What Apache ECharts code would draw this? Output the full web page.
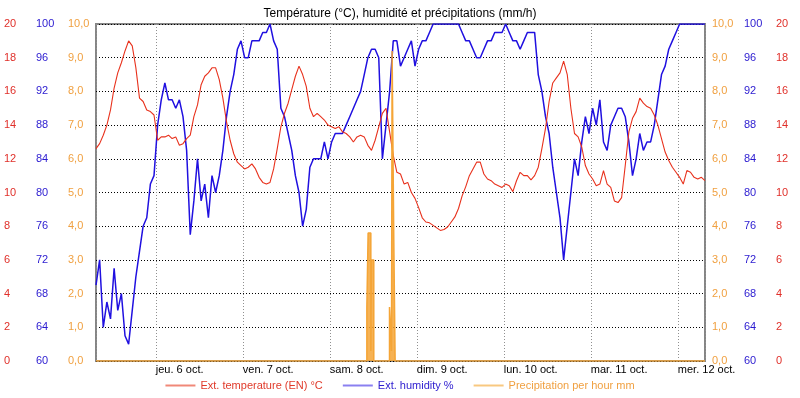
<!DOCTYPE html>
<html>
<head>
<meta charset="utf-8">
<script src="https://cdn.jsdelivr.net/npm/echarts@6/dist/echarts.min.js"></script>
<style>
    html, body { margin: 0; padding: 0; background: #fff; }
    #chart { width: 800px; height: 398px; }
</style>
</head>
<body>
<div id="chart"></div>
<script>
// relevés horaires, du 5 oct. 07:30 au 12 oct. 07:30
const startTime = new Date(2022, 9, 5, 7, 30).getTime();
const endTime = new Date(2022, 9, 12, 7, 30).getTime();

const temperature = [
    12.6, 12.9, 13.4, 14.0, 14.9, 16.2, 17.1, 17.7, 18.4, 19.0,
    18.7, 17.4, 15.6, 15.4, 14.9, 14.8, 14.6, 13.1, 13.3, 13.3,
    13.4, 13.2, 13.3, 12.8, 12.9, 13.2, 13.4, 14.5, 15.2, 16.4,
    16.9, 17.1, 17.4, 17.4, 16.7, 15.6, 14.2, 13.1, 12.3, 11.8,
    11.6, 11.4, 11.5, 11.7, 11.4, 10.9, 10.6, 10.5, 10.6, 11.4,
    12.6, 13.9, 14.7, 15.3, 16.1, 16.9, 17.5, 17.0, 16.3, 15.0,
    14.5, 14.7, 14.5, 14.3, 14.0, 13.9, 13.8, 13.9, 13.6, 13.5,
    13.3, 13.0, 13.3, 13.4, 13.3, 12.8, 12.5, 13.1, 13.9, 14.7,
    15.0, 13.6, 12.2, 11.2, 11.1, 10.5, 10.6, 10.0, 9.65, 9.1,
    8.5, 8.25, 8.2, 8.05, 7.9, 7.75, 7.8, 7.95, 8.25, 8.55,
    9.05, 9.8, 10.35, 11.0, 11.4, 11.8, 11.8, 11.1, 10.8, 10.7,
    10.5, 10.4, 10.3, 10.5, 10.4, 10.05, 10.7, 11.2, 11.0, 11.0,
    10.75, 11.0, 11.5, 12.6, 13.8, 15.4, 16.5, 16.8, 17.1, 17.8,
    17.0, 15.0, 13.5, 13.3, 12.7, 11.6, 11.1, 10.8, 10.4, 10.5,
    11.3, 10.5, 10.3, 9.5, 9.4, 9.7, 11.6, 13.6, 14.4, 14.8,
    15.6, 15.3, 15.1, 15.0, 14.6, 14.0, 13.2, 12.4, 11.9, 11.5,
    11.2, 10.9, 10.5, 11.3, 11.2, 10.9, 10.8, 10.9, 10.7
];

const humidity = [
    69, 72, 64, 67, 65, 71, 66, 68, 63, 62,
    66, 70, 73, 76, 77, 81, 82, 88, 91, 93,
    91, 91, 90, 91, 89, 85, 75, 79, 84, 79,
    81, 77, 82, 80, 82, 85, 89, 92, 94, 97,
    98, 96, 96, 98, 98, 98, 99, 99, 100, 98,
    97, 90, 89, 87, 85, 82, 80, 76, 78, 83,
    84, 84, 84, 86, 84, 86, 87, 87, 87, 88,
    89, 90, 91, 92, 94, 96, 97, 97, 96, 84,
    88, 92, 98, 98, 95, 96, 97, 98, 95, 97,
    98, 98, 99, 100, 100, 100, 100, 100, 100, 100,
    100, 99, 98, 98, 97, 96, 96, 97, 98, 98,
    99, 99, 99, 100, 99, 98, 98, 97, 98, 99,
    99, 99, 94, 92, 89, 87, 83, 80, 77, 72,
    76, 80, 84, 82, 86, 89, 87, 90, 88, 91,
    86, 85, 88, 89, 90, 90, 89, 86, 82, 84,
    87, 85, 86, 86, 88, 91, 94, 95, 97, 98,
    99, 100, 100, 100, 100, 100, 100, 100, 100
];

// chaque valeur vaut jusqu'au relevé suivant
const rainTimes = [
    '2022-10-05 07:30',
    '2022-10-08 10:13', '2022-10-08 10:34', '2022-10-08 11:19', '2022-10-08 11:30', '2022-10-08 12:08',
    '2022-10-08 16:28', '2022-10-08 17:01', '2022-10-08 17:11', '2022-10-08 17:39', '2022-10-08 18:01',
    '2022-10-12 07:30'
];
const rainValues = [
    0,
    1.6, 3.8, 0.3, 3.0, 0,
    1.6, 0.3, 9.2, 3.6, 0,
    0
];

const dayNames = ['dim.', 'lun.', 'mar.', 'mer.', 'jeu.', 'ven.', 'sam.'];
const monthNames = ['janv.', 'févr.', 'mars', 'avr.', 'mai', 'juin', 'juil.', 'août', 'sept.', 'oct.', 'nov.', 'déc.'];

const RED = '#e8311c';
const BLUE = '#2010e0';
const ORANGE = '#f5a536';
const FONT = 'Liberation Sans, Arial, sans-serif';

const hourTimes = temperature.map((_, i) => startTime + i * 3600000);
const tempData = hourTimes.map((t, i) => [t, temperature[i]]);
const humData = hourTimes.map((t, i) => [t, humidity[i]]);
const rainData = rainTimes.map((t, i) => [t, rainValues[i]]);

const comma = v => v.toFixed(1).replace('.', ',');

const yAxis = (opts) => Object.assign({
    type: 'value',
    axisLine: { show: false },
    axisTick: { show: false },
    splitLine: { show: false },
}, opts);

const chart = echarts.init(document.getElementById('chart'));
chart.setOption({
    animation: false,
    textStyle: { fontFamily: FONT },
    title: {
        text: 'Température (°C), humidité et précipitations (mm/h)',
        left: 'center',
        top: 3,
        textStyle: { fontSize: 12, fontWeight: 'normal', color: '#000', fontFamily: FONT }
    },
    grid: {
        left: 96, right: 95, top: 24, bottom: 37,
        show: true, borderColor: '#858585', borderWidth: 2
    },
    legend: {
        bottom: 2,
        left: 'center',
        icon: 'rect',
        itemWidth: 30,
        itemHeight: 2,
        itemGap: 20,
        textStyle: { fontSize: 11, fontFamily: FONT },
        data: [
            { name: 'Ext. temperature (EN) °C', itemStyle: { color: '#f08878' }, textStyle: { color: '#e03a2a' } },
            { name: 'Ext. humidity %', itemStyle: { color: '#8a80f0' }, textStyle: { color: '#3020d0' } },
            { name: 'Precipitation per hour mm', itemStyle: { color: '#f8c880' }, textStyle: { color: '#f0a040' } }
        ]
    },
    xAxis: {
        type: 'time',
        min: startTime,
        max: endTime,
        minInterval: 86400000,
        maxInterval: 86400000,
        axisLine: { show: false },
        axisTick: { show: false },
        axisLabel: {
            align: 'left',
            margin: 3,
            fontSize: 11,
            color: '#000',
            formatter: v => {
                const d = new Date(v);
                return dayNames[d.getDay()] + ' ' + d.getDate() + ' ' + monthNames[d.getMonth()];
            }
        },
        splitLine: { show: true, lineStyle: { color: '#909090', type: [1, 2], width: 1 } }
    },
    yAxis: [
        yAxis({
            position: 'left', min: 0, max: 20, interval: 2,
            axisLabel: { align: 'left', margin: 92, fontSize: 11, color: '#e0302a' },
            splitLine: { show: true, lineStyle: { color: '#000', type: [1, 2], width: 1 } }
        }),
        yAxis({
            position: 'left', min: 60, max: 100, interval: 4,
            axisLabel: { align: 'left', margin: 60, fontSize: 11, color: '#2a1ad0' }
        }),
        yAxis({
            position: 'left', min: 0, max: 10, interval: 1,
            axisLabel: { align: 'left', margin: 28, fontSize: 11, color: '#f0a040', formatter: comma }
        }),
        yAxis({
            position: 'right', min: 0, max: 10, interval: 1,
            axisLabel: { align: 'left', margin: 7, fontSize: 11, color: '#f0a040', formatter: comma }
        }),
        yAxis({
            position: 'right', min: 60, max: 100, interval: 4,
            axisLabel: { align: 'left', margin: 39, fontSize: 11, color: '#2a1ad0' }
        }),
        yAxis({
            position: 'right', min: 0, max: 20, interval: 2,
            axisLabel: { align: 'left', margin: 71, fontSize: 11, color: '#e0302a' }
        })
    ],
    series: [
        {
            name: 'Ext. humidity %',
            type: 'line',
            yAxisIndex: 1,
            data: humData,
            showSymbol: false,
            lineStyle: { color: BLUE, width: 1.5 },
            itemStyle: { color: BLUE }
        },
        {
            name: 'Ext. temperature (EN) °C',
            type: 'line',
            yAxisIndex: 0,
            data: tempData,
            showSymbol: false,
            lineStyle: { color: RED, width: 1.1 },
            itemStyle: { color: RED }
        },
        {
            name: 'Precipitation per hour mm',
            type: 'line',
            yAxisIndex: 2,
            data: rainData,
            step: 'end',
            showSymbol: false,
            lineStyle: { color: ORANGE, width: 1.5 },
            itemStyle: { color: ORANGE },
            areaStyle: { color: ORANGE, opacity: 0.85 }
        }
    ]
});
</script>
</body>
</html>
